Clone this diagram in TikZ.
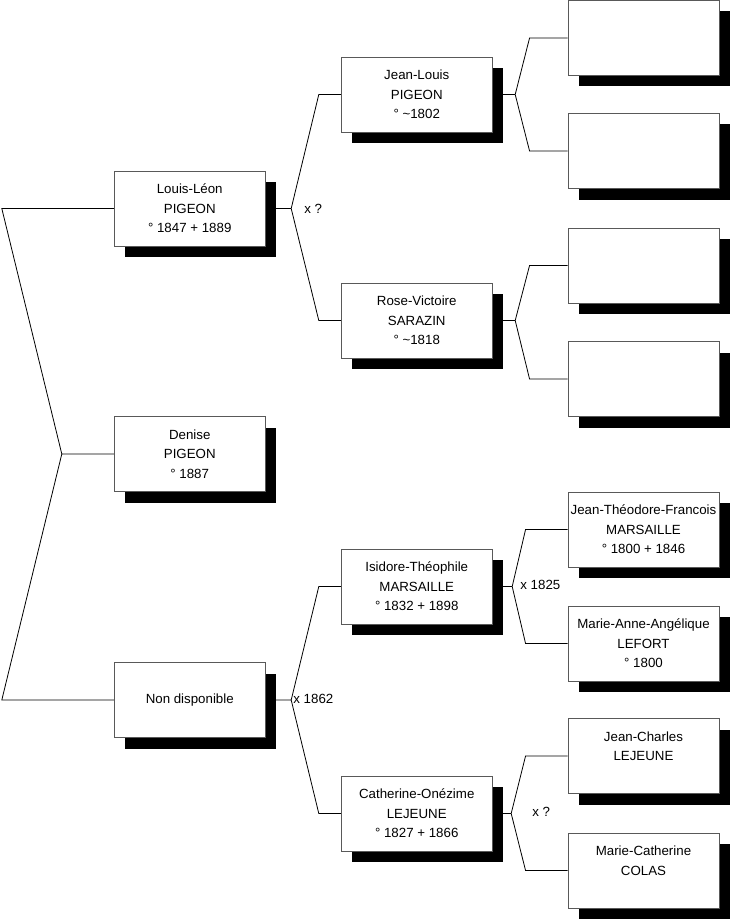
\documentclass[tikz,border=0pt]{standalone}
\usepackage{fontspec}
\setmainfont{Liberation Sans}
\usepackage{tikz}
\usetikzlibrary{shadows,backgrounds}

\begin{document}
\begin{tikzpicture}[
    x=1pt, y=-1pt,
    % One box per person, with a hard black shadow
    person/.style={
        draw=black!65,
        line width=0.9pt,
        fill=white,
        minimum width=151pt,
        minimum height=75pt,
        inner sep=1pt,
        align=center,
        font=\fontsize{13.3}{19.6}\selectfont,
        drop shadow={shadow xshift=11pt, shadow yshift=-11pt, fill=black, opacity=1}
    },
    link/.style={draw=black, line width=0.8pt},
    union/.style={anchor=west, inner sep=0pt, font=\fontsize{13.3}{15}\selectfont}
]
    \useasboundingbox (0,0) rectangle (731,920);

    % Generation 1 and 2 (sosa numbers)
    \node(sosa-1)[person] at (189.75, 454) {Denise\\PIGEON\\° 1887};
    \node(sosa-2)[person] at (189.75, 208.5) {Louis-Léon\\PIGEON\\° 1847 + 1889};
    \node(sosa-3)[person] at (189.75, 700) {Non disponible};

    % Generation 3
    \node(sosa-4)[person] at (416.75, 94.5) {Jean-Louis\\PIGEON\\° \textasciitilde1802};
    \node(sosa-5)[person] at (416.75, 320.5) {Rose-Victoire\\SARAZIN\\° \textasciitilde1818};
    \node(sosa-6)[person] at (416.75, 586.5) {Isidore-Théophile\\MARSAILLE\\° 1832 + 1898};
    \node(sosa-7)[person] at (416.75, 813.5) {Catherine-Onézime\\LEJEUNE\\° 1827 + 1866};

    % Generation 4: the first four are unknown
    \foreach \s/\y in {8/38, 9/151, 10/265.5, 11/379} {
        \node(sosa-\s)[person] at (643.5, \y) {};
    }
    \node(sosa-12)[person] at (643.5, 529.5) {Jean-Théodore-Francois\\MARSAILLE\\° 1800 + 1846};
    \node(sosa-13)[person] at (643.5, 643.5) {Marie-Anne-Angélique\\LEFORT\\° 1800};
    \node(sosa-14)[person] at (643.5, 756) {Jean-Charles\\LEJEUNE\\\mbox{}};
    \node(sosa-15)[person] at (643.5, 870.5) {Marie-Catherine\\COLAS\\\mbox{}};

    \begin{pgfonlayer}{background}
        % Denise to her parents, on the left
        \draw[link] (sosa-1.west) -- ++(-52,0) coordinate (fork-1)
            -- ([xshift=-112]sosa-2.west) -- (sosa-2.west)
            (fork-1) -- ([xshift=-112]sosa-3.west) -- (sosa-3.west);

        % Each child forks to father (2c) and mother (2c+1)
        \foreach \c/\dx/\bx in {2/25.5/22, 3/25.5/22, 4/22.5/38, 5/22.5/38, 6/19.5/42, 7/18.5/42} {
            \pgfmathtruncatemacro{\f}{2*\c}
            \pgfmathtruncatemacro{\m}{2*\c+1}
            \draw[link] (sosa-\c.east) -- ++(\dx,0) coordinate (fork-\c)
                (sosa-\f.west) -- ++(-\bx,0) -- (fork-\c)
                -- ([xshift=-\bx]sosa-\m.west) -- (sosa-\m.west);
        }
    \end{pgfonlayer}

    % Marriages
    \node(union-2)[union] at ([xshift=13]fork-2) {x ?};
    \node(union-3)[union] at ([xshift=2, yshift=1]fork-3) {x 1862};
    \node(union-6)[union] at ([xshift=8, yshift=2]fork-6) {x 1825};
    \node(union-7)[union] at ([xshift=21, yshift=2]fork-7) {x ?};
\end{tikzpicture}
\end{document}
